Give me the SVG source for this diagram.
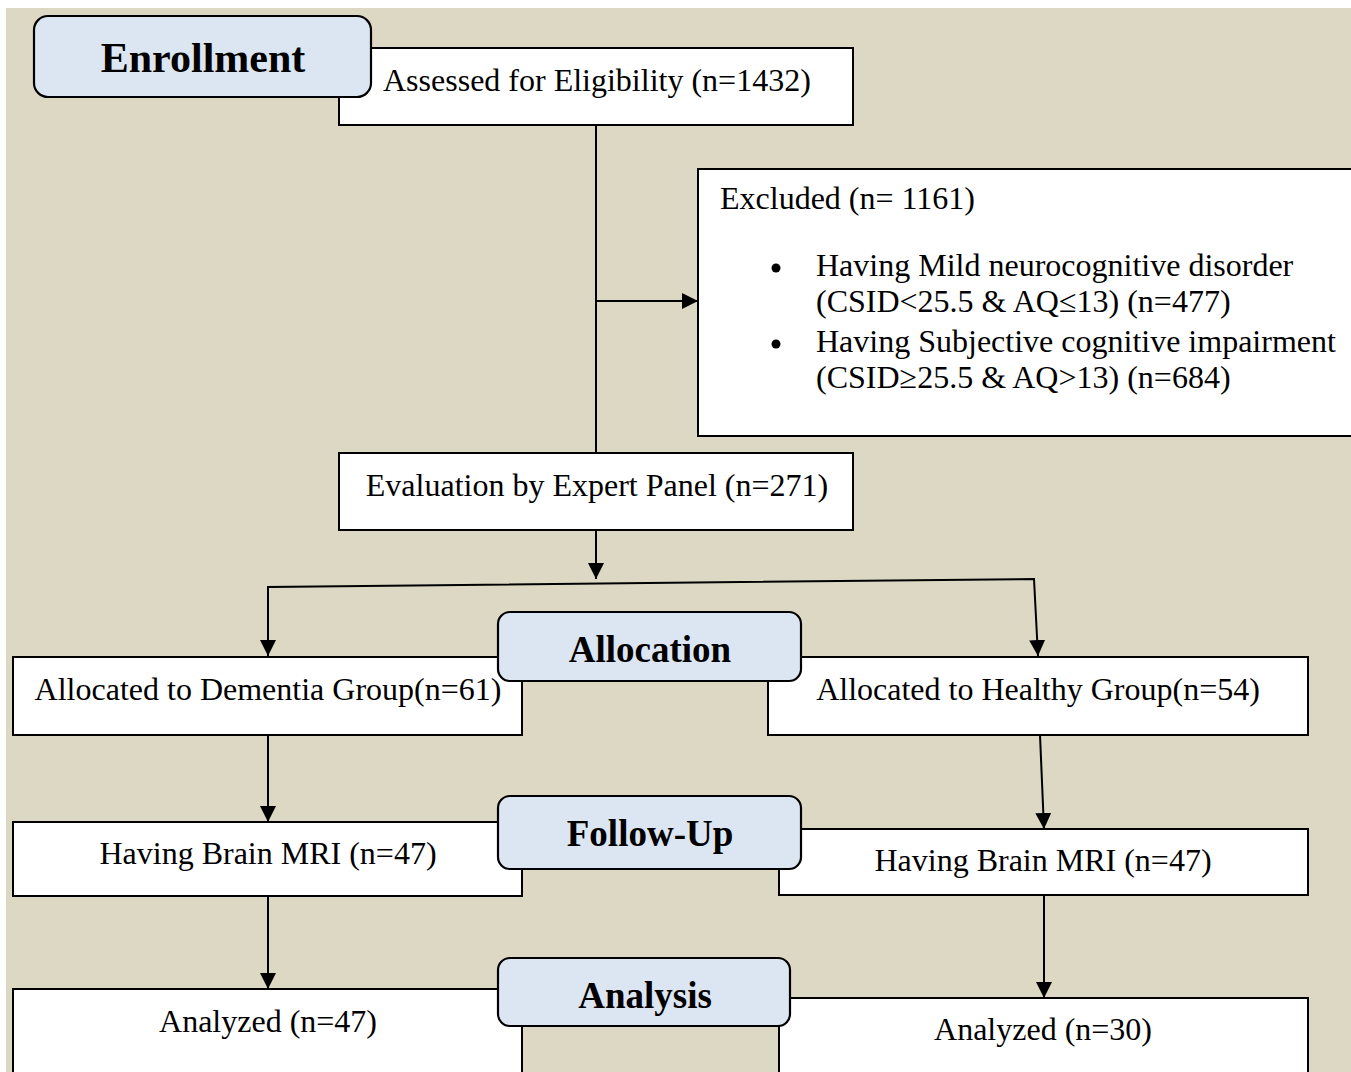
<svg xmlns="http://www.w3.org/2000/svg" width="1351" height="1072" viewBox="0 0 1351 1072">
<defs>
<marker id="ah" markerUnits="userSpaceOnUse" markerWidth="16" markerHeight="16" refX="16" refY="8" orient="auto">
<path d="M0,0 L16,8 L0,16 Z" fill="#000"/>
</marker>
<style>
.bg{fill:#ddd8c3}
.box{fill:#fff;stroke:#000;stroke-width:2}
.hdr{fill:#dce6f2;stroke:#000;stroke-width:2.2}
.t{font-family:"Liberation Serif","Times New Roman",serif;font-size:32px;fill:#000}
.h{font-family:"Liberation Serif","Times New Roman",serif;font-weight:bold;font-size:37px;fill:#000}
.c{fill:none;stroke:#000;stroke-width:2}
</style>
</defs>
<rect x="0" y="0" width="1351" height="1072" fill="#fff"/>
<rect class="bg" x="6" y="8" width="1345" height="1064"/>
<g id="connectors">
<line class="c" x1="596" y1="125" x2="596" y2="453"/>
<line class="c" x1="596" y1="301" x2="698" y2="301" marker-end="url(#ah)"/>
<line class="c" x1="596" y1="530" x2="596" y2="579" marker-end="url(#ah)"/>
<polyline class="c" points="268,656 268,587 1034,579 1038,656" marker-end="url(#ah)"/>
<line class="c" x1="268" y1="587" x2="268" y2="656" marker-end="url(#ah)"/>
<line class="c" x1="268" y1="735" x2="268" y2="822" marker-end="url(#ah)"/>
<line class="c" x1="1040" y1="735" x2="1044" y2="829" marker-end="url(#ah)"/>
<line class="c" x1="268" y1="896" x2="268" y2="989" marker-end="url(#ah)"/>
<line class="c" x1="1044" y1="895" x2="1044" y2="998" marker-end="url(#ah)"/>
</g>
<g id="assessed">
<rect class="box" x="339" y="48" width="514" height="77"/>
<text class="t" x="383" y="91">Assessed for Eligibility (n=1432)</text>
</g>
<g id="excluded">
<rect class="box" x="698" y="169" width="670" height="267"/>
<text class="t" x="720" y="209">Excluded (n= 1161)</text>
<circle cx="776" cy="268" r="4.5" fill="#000"/>
<text class="t" x="816" y="276">Having Mild neurocognitive disorder</text>
<text class="t" x="816" y="312">(CSID&lt;25.5 &amp; AQ≤13) (n=477)</text>
<circle cx="776" cy="344" r="4.5" fill="#000"/>
<text class="t" x="816" y="352">Having Subjective cognitive impairment</text>
<text class="t" x="816" y="388">(CSID≥25.5 &amp; AQ&gt;13) (n=684)</text>
</g>
<g id="evaluation">
<rect class="box" x="339" y="453" width="514" height="77"/>
<text class="t" x="597" y="496" text-anchor="middle">Evaluation by Expert Panel (n=271)</text>
</g>
<g id="dementia">
<rect class="box" x="13" y="657" width="509" height="78"/>
<text class="t" x="268" y="700" text-anchor="middle">Allocated to Dementia Group(n=61)</text>
</g>
<g id="healthy">
<rect class="box" x="768" y="657" width="540" height="78"/>
<text class="t" x="1038" y="700" text-anchor="middle">Allocated to Healthy Group(n=54)</text>
</g>
<g id="mri-left">
<rect class="box" x="13" y="822" width="509" height="74"/>
<text class="t" x="268" y="864" text-anchor="middle">Having Brain MRI (n=47)</text>
</g>
<g id="mri-right">
<rect class="box" x="779" y="829" width="529" height="66"/>
<text class="t" x="1043" y="871" text-anchor="middle">Having Brain MRI (n=47)</text>
</g>
<g id="analyzed-left">
<rect class="box" x="13" y="989" width="509" height="100"/>
<text class="t" x="268" y="1032" text-anchor="middle">Analyzed (n=47)</text>
</g>
<g id="analyzed-right">
<rect class="box" x="779" y="998" width="529" height="100"/>
<text class="t" x="1043" y="1040" text-anchor="middle">Analyzed (n=30)</text>
</g>
<g id="enrollment">
<rect class="hdr" x="34" y="16" width="337" height="81" rx="14"/>
<text class="h" x="203" y="72" text-anchor="middle" style="font-size:42px">Enrollment</text>
</g>
<g id="allocation">
<rect class="hdr" x="498" y="612" width="303" height="69" rx="12"/>
<text class="h" x="650" y="662" text-anchor="middle">Allocation</text>
</g>
<g id="followup">
<rect class="hdr" x="498" y="796" width="303" height="73" rx="12"/>
<text class="h" x="650" y="846" text-anchor="middle">Follow-Up</text>
</g>
<g id="analysis">
<rect class="hdr" x="498" y="958" width="292" height="68" rx="12"/>
<text class="h" x="645" y="1008" text-anchor="middle">Analysis</text>
</g>
</svg>
